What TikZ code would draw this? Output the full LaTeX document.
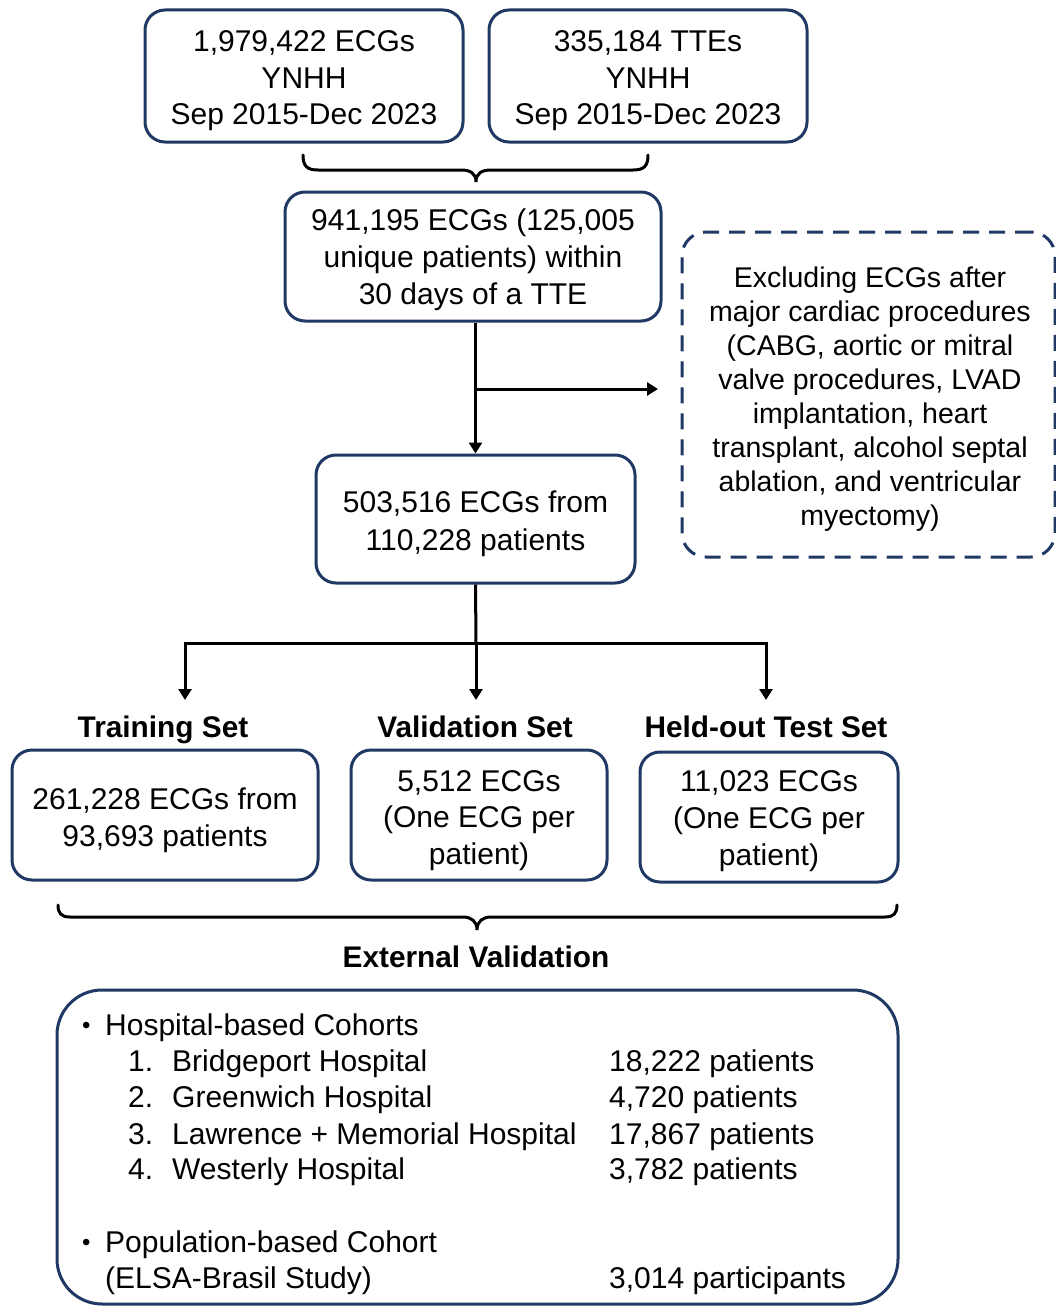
\documentclass[tikz,border=0pt]{standalone}
\usepackage{fontspec}
\setmainfont{Liberation Sans}
\usetikzlibrary{arrows.meta}
\definecolor{navy}{HTML}{1F3864}
\begin{document}
\begin{tikzpicture}[x=1pt,y=-1pt,
  box/.style={draw=navy,line width=3pt,rounded corners=20pt,inner sep=0pt},
  btxt/.style={align=center,inner sep=0pt,font=\fontsize{30}{36.5}\selectfont},
  dbox/.style={draw=navy,line width=3pt,rounded corners=24pt,dash pattern=on 16pt off 10pt,inner sep=0pt},
  dtxt/.style={align=center,inner sep=0pt,font=\fontsize{28.5}{34}\selectfont},
  lbl/.style={font=\fontsize{29.8}{35}\selectfont\bfseries,inner sep=0pt,anchor=base},
  txt/.style={font=\fontsize{30}{36}\selectfont,inner sep=0pt,anchor=base west},
  bul/.style={font=\fontsize{24}{28}\selectfont,inner sep=0pt,anchor=base west},
  conn/.style={line width=3pt,black},
  arr/.style={conn,-{Triangle[width=13pt,length=11pt]}},
  brace/.style={line width=3pt,black,line cap=round}]
\useasboundingbox (0,0) rectangle (1055,1306);

\node[box,minimum width=318pt,minimum height=132pt] (A) at (304,76) {};
\node[btxt] (At) at (304,81) {1,979,422 ECGs\\YNHH\\Sep 2015-Dec 2023};
\node[box,minimum width=318pt,minimum height=132pt] (B) at (648,76) {};
\node[btxt] (Bt) at (648,81) {335,184 TTEs\\YNHH\\Sep 2015-Dec 2023};
\node[box,minimum width=376pt,minimum height=129pt] (C) at (473,256.5) {};
\node[btxt,font=\fontsize{30}{37}\selectfont] (Ct) at (473,260) {941,195 ECGs (125,005\\unique patients) within\\30 days of a TTE};
\node[dbox,minimum width=373pt,minimum height=325pt] (X) at (868.5,394.5) {};
\node[dtxt] (Xt) at (870,399) {Excluding ECGs after\\major cardiac procedures\\(CABG, aortic or mitral\\valve procedures, LVAD\\implantation, heart\\transplant, alcohol septal\\ablation, and ventricular\\myectomy)};
\node[box,minimum width=319pt,minimum height=128pt] (D) at (475.5,519) {};
\node[btxt,font=\fontsize{30}{38}\selectfont] (Dt) at (475.5,523.5) {503,516 ECGs from\\110,228 patients};
\node[box,minimum width=306pt,minimum height=130pt] (E) at (165,815) {};
\node[btxt] (Et) at (165,820) {261,228 ECGs from\\93,693 patients};
\node[box,minimum width=256pt,minimum height=130pt] (F) at (479,815) {};
\node[btxt] (Ft) at (479,820.5) {5,512 ECGs\\(One ECG per\\patient)};
\node[box,minimum width=258pt,minimum height=130pt] (G) at (769,817) {};
\node[btxt,font=\fontsize{30}{37}\selectfont] (Gt) at (769,821.5) {11,023 ECGs\\(One ECG per\\patient)};

\node[lbl] (lE) at (163,737.5) {Training Set};
\node[lbl] (lF) at (475,737.5) {Validation Set};
\node[lbl] (lG) at (766,737.5) {Held-out Test Set};
\node[lbl] (lH) at (476,967.5) {External Validation};

% top brace
\coordinate (b1l) at (303,155);
\coordinate (b1r) at (648,155);
\coordinate (b1t) at (476,182);
\draw[brace] (b1l) .. controls (303,166) and (307,170) .. (318,170) -- (461,170)
  .. controls (470,170) and (476,173) .. (b1t) .. controls (476,173) and (482,170) .. (491,170)
  -- (633,170) .. controls (644,170) and (648,166) .. (b1r);

% bottom brace
\coordinate (b2l) at (58,905);
\coordinate (b2r) at (897,905);
\coordinate (b2t) at (477,930);
\draw[brace] (b2l) .. controls (58,913) and (61,917) .. (70,917) -- (463,917)
  .. controls (471,917) and (477,921) .. (b2t) .. controls (477,921) and (483,917) .. (491,917)
  -- (885,917) .. controls (894,917) and (897,913) .. (b2r);

% arrows
\draw[arr] (C.south -| D.north) -- (D.north);
\coordinate (br) at (476,389);
\coordinate (brEnd) at (658,389);
\draw[arr] (br) -- (brEnd);
\coordinate (sp) at (476,643);
\coordinate (tE) at (185,700);
\coordinate (tF) at (476,700);
\coordinate (tG) at (766,700);
\draw[conn] (D.south) -- (sp);
\draw[arr] (sp) -| (tE);
\draw[arr] (sp) -- (tF);
\draw[arr] (sp) -| (tG);

% external validation box
\node[draw=navy,line width=3pt,rounded corners=45pt,minimum width=841pt,minimum height=314pt,inner sep=0pt] (H) at (477.5,1147) {};
\node[bul] (h0b) at (82,1033) {•};
\node[txt] (h0) at (105,1035) {Hospital-based Cohorts};
\node[txt] (h1n) at (128,1071) {1.};
\node[txt] (h1) at (172,1071) {Bridgeport Hospital};
\node[txt] (h1v) at (609,1071) {18,222 patients};
\node[txt] (h2n) at (128,1107) {2.};
\node[txt] (h2) at (172,1107) {Greenwich Hospital};
\node[txt] (h2v) at (609,1107) {4,720 patients};
\node[txt] (h3n) at (128,1144) {3.};
\node[txt] (h3) at (172,1144) {Lawrence + Memorial Hospital};
\node[txt] (h3v) at (609,1144) {17,867 patients};
\node[txt] (h4n) at (128,1179) {4.};
\node[txt] (h4) at (172,1179) {Westerly Hospital};
\node[txt] (h4v) at (609,1179) {3,782 patients};
\node[bul] (p0b) at (82,1250) {•};
\node[txt] (p0) at (105,1252) {Population-based Cohort};
\node[txt] (p1) at (105,1288) {(ELSA-Brasil Study)};
\node[txt] (p1v) at (609,1288) {3,014 participants};
\end{tikzpicture}
\end{document}
